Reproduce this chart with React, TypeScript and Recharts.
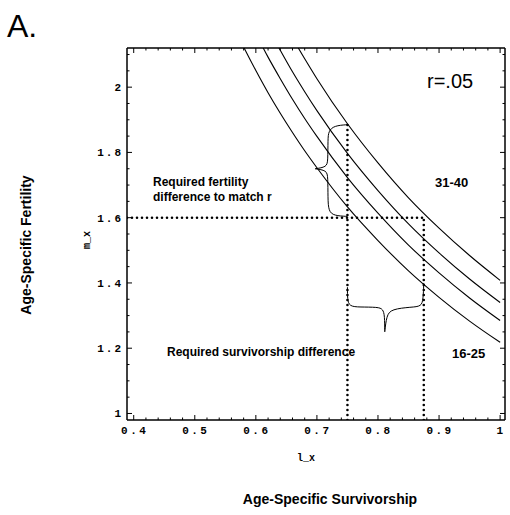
import React from 'react';
import { ComposedChart, Line, XAxis, YAxis } from 'recharts';

// survivorship grid (l_x) at which curves were read
const survivorship = [0.56, 0.58, 0.6, 0.62, 0.64, 0.66, 0.68, 0.7, 0.75, 0.8, 0.85, 0.9, 0.95, 1.0];
// fertility (m_x) for the four age-at-maturity curves, inner (16-25) to outer (31-40)
const fert1 = [2.2, 2.123, 2.051, 1.983, 1.92, 1.861, 1.805, 1.753, 1.633, 1.53, 1.437, 1.356, 1.283, 1.218];
const fert2 = [2.321, 2.24, 2.164, 2.092, 2.026, 1.963, 1.904, 1.849, 1.723, 1.614, 1.516, 1.431, 1.354, 1.285];
const fert3 = [2.42, 2.336, 2.257, 2.182, 2.113, 2.047, 1.986, 1.928, 1.797, 1.683, 1.581, 1.492, 1.412, 1.34];
const fert4 = [2.543, 2.454, 2.371, 2.293, 2.22, 2.151, 2.087, 2.026, 1.888, 1.768, 1.661, 1.568, 1.484, 1.408];

// braces
const braceFertL = [0.75, 0.728, 0.719, 0.718, 0.718, 0.716, 0.697, 0.697, 0.697, 0.716, 0.718, 0.718, 0.719, 0.728, 0.75];
const braceFertM = [1.885, 1.882, 1.865, 1.84, 1.775, 1.755, 1.75, 1.75, 1.75, 1.745, 1.725, 1.66, 1.62, 1.606, 1.604];
const braceSurvL = [0.75, 0.75, 0.753, 0.77, 0.8, 0.808, 0.811, 0.811, 0.811, 0.814, 0.822, 0.855, 0.871, 0.874, 0.875];
const braceSurvM = [1.387, 1.35, 1.328, 1.326, 1.326, 1.32, 1.3, 1.248, 1.248, 1.3, 1.32, 1.326, 1.328, 1.35, 1.4];

// dotted guides
const guideV1L = [0.75, 0.75];
const guideV1M = [0.98, 1.885];
const guideV2L = [0.875, 0.875];
const guideV2M = [0.98, 1.6];
const guideHL = [0.389, 0.875];
const guideHM = [1.6, 1.6];

// ticks
const xMajor = [0.4, 0.5, 0.6, 0.7, 0.8, 0.9, 1.0];
const xTickLabels = ['0.4', '0.5', '0.6', '0.7', '0.8', '0.9', '1'];
const xMinor = [0.42, 0.44, 0.46, 0.48, 0.52, 0.54, 0.56, 0.58, 0.62, 0.64, 0.66, 0.68, 0.72, 0.74, 0.76, 0.78, 0.82, 0.84, 0.86, 0.88, 0.92, 0.94, 0.96, 0.98];
const yMajor = [1.0, 1.2, 1.4, 1.6, 1.8, 2.0];
const yTickLabels = ['1', '1.2', '1.4', '1.6', '1.8', '2'];
const yMinor = [1.05, 1.1, 1.15, 1.25, 1.3, 1.35, 1.45, 1.5, 1.55, 1.65, 1.7, 1.75, 1.85, 1.9, 1.95, 2.05, 2.1];

const xDomain: [number, number] = [0.389, 1.008];
const yDomain: [number, number] = [0.98, 2.12];

const zip = (ls: number[], ms: number[]) => ls.map((l, i) => ({ l, m: ms[i] }));

const xTicks = [...xMajor, ...xMinor].sort((a, b) => a - b);
const yTicks = [...yMajor, ...yMinor].sort((a, b) => a - b);
const idxOf = (arr: number[], v: number) => arr.findIndex((t) => Math.abs(t - v) < 1e-9);

const tickFont = { fontFamily: '"Liberation Mono", "DejaVu Sans Mono", monospace', fontSize: 11, fontWeight: 700 as const };

const BottomTick = (props: any) => {
  const { x, y, payload } = props;
  const i = idxOf(xMajor, payload.value);
  const len = i >= 0 ? 5 : 2.5;
  return (
    <g>
      <line x1={x} y1={y} x2={x} y2={y - len} stroke="#000" strokeWidth={1} />
      {i >= 0 && (
        <text x={x + 1} y={y + 14} textAnchor="middle" fill="#000" letterSpacing={2.5} style={tickFont}>
          {xTickLabels[i]}
        </text>
      )}
    </g>
  );
};
const TopTick = (props: any) => {
  const { x, y, payload } = props;
  const len = idxOf(xMajor, payload.value) >= 0 ? 5 : 2.5;
  return <line x1={x} y1={y} x2={x} y2={y + len} stroke="#000" strokeWidth={1} />;
};
const LeftTick = (props: any) => {
  const { x, y, payload } = props;
  const i = idxOf(yMajor, payload.value);
  const len = i >= 0 ? 5 : 2.5;
  return (
    <g>
      <line x1={x} y1={y} x2={x + len} y2={y} stroke="#000" strokeWidth={1} />
      {i >= 0 && (
        <text x={x - 4} y={y + 4} textAnchor="end" fill="#000" letterSpacing={2} style={tickFont}>
          {yTickLabels[i]}
        </text>
      )}
    </g>
  );
};
const RightTick = (props: any) => {
  const { x, y, payload } = props;
  const len = idxOf(yMajor, payload.value) >= 0 ? 5 : 2.5;
  return <line x1={x} y1={y} x2={x - len} y2={y} stroke="#000" strokeWidth={1} />;
};

const sans = '"Liberation Sans", Arial, sans-serif';
const mono = '"Liberation Mono", "DejaVu Sans Mono", monospace';

export default function App() {
  const axisLine = { stroke: '#000', strokeWidth: 1.5 };
  const curves = [fert1, fert2, fert3, fert4];
  return (
    <div style={{ position: 'absolute', left: 0, top: 0, width: 510, height: 515, background: '#fff' }}>
      <ComposedChart width={510} height={515} margin={{ top: 38, right: 0, bottom: 65, left: 87 }}>
        <XAxis xAxisId="b" dataKey="l" type="number" orientation="bottom" domain={xDomain} allowDataOverflow
          ticks={xTicks} interval={0} tickSize={0} tickMargin={0} tickLine={false} axisLine={axisLine} height={30} tick={BottomTick} />
        <XAxis xAxisId="t" dataKey="l" type="number" orientation="top" domain={xDomain} allowDataOverflow
          ticks={xTicks} interval={0} tickSize={0} tickMargin={0} tickLine={false} axisLine={axisLine} height={10} tick={TopTick} />
        <YAxis yAxisId="l" dataKey="m" type="number" orientation="left" domain={yDomain} allowDataOverflow
          ticks={yTicks} interval={0} tickSize={0} tickMargin={0} tickLine={false} axisLine={axisLine} width={40} tick={LeftTick} />
        <YAxis yAxisId="r" dataKey="m" type="number" orientation="right" domain={yDomain} allowDataOverflow
          ticks={yTicks} interval={0} tickSize={0} tickMargin={0} tickLine={false} axisLine={axisLine} width={5} tick={RightTick} />
        {curves.map((c, i) => (
          <Line key={'c' + i} xAxisId="b" yAxisId="l" data={zip(survivorship, c)} dataKey="m" type="monotone"
            stroke="#000" strokeWidth={1.1} dot={false} isAnimationActive={false} />
        ))}
        <Line xAxisId="b" yAxisId="l" data={zip(braceFertL, braceFertM)} dataKey="m" type="basis"
          stroke="#000" strokeWidth={1} dot={false} isAnimationActive={false} />
        <Line xAxisId="b" yAxisId="l" data={zip(braceSurvL, braceSurvM)} dataKey="m" type="basis"
          stroke="#000" strokeWidth={1} dot={false} isAnimationActive={false} />
        {[zip(guideV1L, guideV1M), zip(guideV2L, guideV2M), zip(guideHL, guideHM)].map((d, i) => (
          <Line key={'g' + i} xAxisId="b" yAxisId="l" data={d} dataKey="m" type="linear"
            stroke="#000" strokeWidth={2.6} strokeDasharray="0 5" strokeLinecap="round" dot={false} isAnimationActive={false} />
        ))}
      </ComposedChart>
      <svg width={510} height={515} style={{ position: 'absolute', left: 0, top: 0, pointerEvents: 'none' }}>
        <text x={7} y={37} fontFamily={sans} fontSize={32} fill="#000">A.</text>
        <text x={427} y={88} fontFamily={sans} fontSize={20} fill="#000">r=.05</text>
        <text x={435} y={187} fontFamily={sans} fontSize={13} fontWeight={700} fill="#000">31-40</text>
        <text x={452} y={358} fontFamily={sans} fontSize={13} fontWeight={700} fill="#000">16-25</text>
        <text x={153} y={186} fontFamily={sans} fontSize={12} fontWeight={700} fill="#000">Required fertility</text>
        <text x={153} y={201} fontFamily={sans} fontSize={12} fontWeight={700} fill="#000">difference to match r</text>
        <text x={167} y={356} fontFamily={sans} fontSize={12} fontWeight={700} fill="#000">Required survivorship difference</text>
        <text x={306} y={461} textAnchor="middle" fontFamily={mono} fontSize={10} fontWeight={700} fill="#000">l_x</text>
        <text x={0} y={0} transform="translate(90,240) rotate(-90)" textAnchor="middle" fontFamily={mono} fontSize={10} fontWeight={700} fill="#000">m_x</text>
        <text x={330} y={504} textAnchor="middle" fontFamily={sans} fontSize={14} fontWeight={700} fill="#000">Age-Specific Survivorship</text>
        <text x={0} y={0} transform="translate(31,245) rotate(-90)" textAnchor="middle" fontFamily={sans} fontSize={14} fontWeight={700} fill="#000">Age-Specific Fertility</text>
      </svg>
    </div>
  );
}
